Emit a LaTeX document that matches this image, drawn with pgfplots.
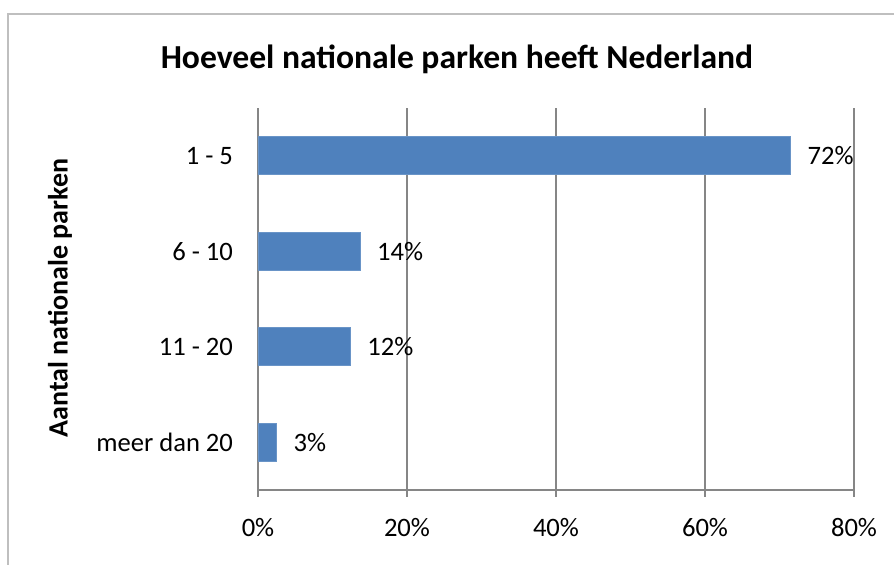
\documentclass[border=0pt]{standalone}
\usepackage{pgfplots}
\usepackage{pgfplotstable}
\pgfplotsset{compat=1.18}
\usepackage{fontspec}
\setmainfont{Carlito}
\definecolor{barblue}{HTML}{4F81BD}
\definecolor{gridgray}{HTML}{868686}
\definecolor{framegray}{HTML}{BFBFBF}
\pgfplotstableread{
y v lab
3 71.5 72
2 13.7 14
1 12.4 12
0 2.5 3
}\datatable
\begin{document}
\begin{tikzpicture}
\useasboundingbox (0,0) rectangle (447pt,282.5pt);
\fill[white] (0,0) rectangle (447pt,282.5pt);
\draw[framegray, line width=1.3pt] (4pt,0) -- (4pt,275.5pt) -- (447pt,275.5pt);
\node[font=\fontsize{16.8}{19}\selectfont\bfseries] at (228.5pt,253pt) {Hoeveel nationale parken heeft Nederland};
\node[font=\fontsize{14}{16}\selectfont\bfseries, rotate=90] at (30pt,133.5pt) {Aantal nationale parken};
\begin{axis}[
  at={(129pt,37.5pt)}, anchor=south west,
  scale only axis, width=298pt, height=191pt,
  xbar, bar width=19pt,
  xmin=0, xmax=80, ymin=-0.5, ymax=3.5,
  ytick={0,1,2,3},
  yticklabels={meer dan 20, 11 - 20, 6 - 10, 1 - 5},
  xtick={0,20,40,60,80},
  xticklabel={\pgfmathprintnumber{\tick}\%},
  /pgf/number format/assume math mode=true,
  axis x line*=bottom, axis y line*=left,
  axis line style={gridgray, line width=1pt, -},
  xmajorgrids, grid style={gridgray, line width=1pt},
  x tick style={gridgray, line width=1pt},
  tick align=outside, major tick length=3.5pt,
  y tick style={draw=none},
  ticklabel style={font=\fontsize{13.3}{15}\selectfont, text=black},
  xticklabel style={yshift=-7pt},
  yticklabel style={xshift=-5.5pt},
  point meta=explicit symbolic,
  nodes near coords={\pgfplotspointmeta\%},
  nodes near coords style={anchor=west, xshift=5pt, font=\fontsize{13.3}{15}\selectfont, text=black},
]
\addplot[fill=barblue, draw=barblue!85!white, line width=0.4pt] table[x=v, y=y, meta=lab] \datatable;
\end{axis}
\end{tikzpicture}
\end{document}
